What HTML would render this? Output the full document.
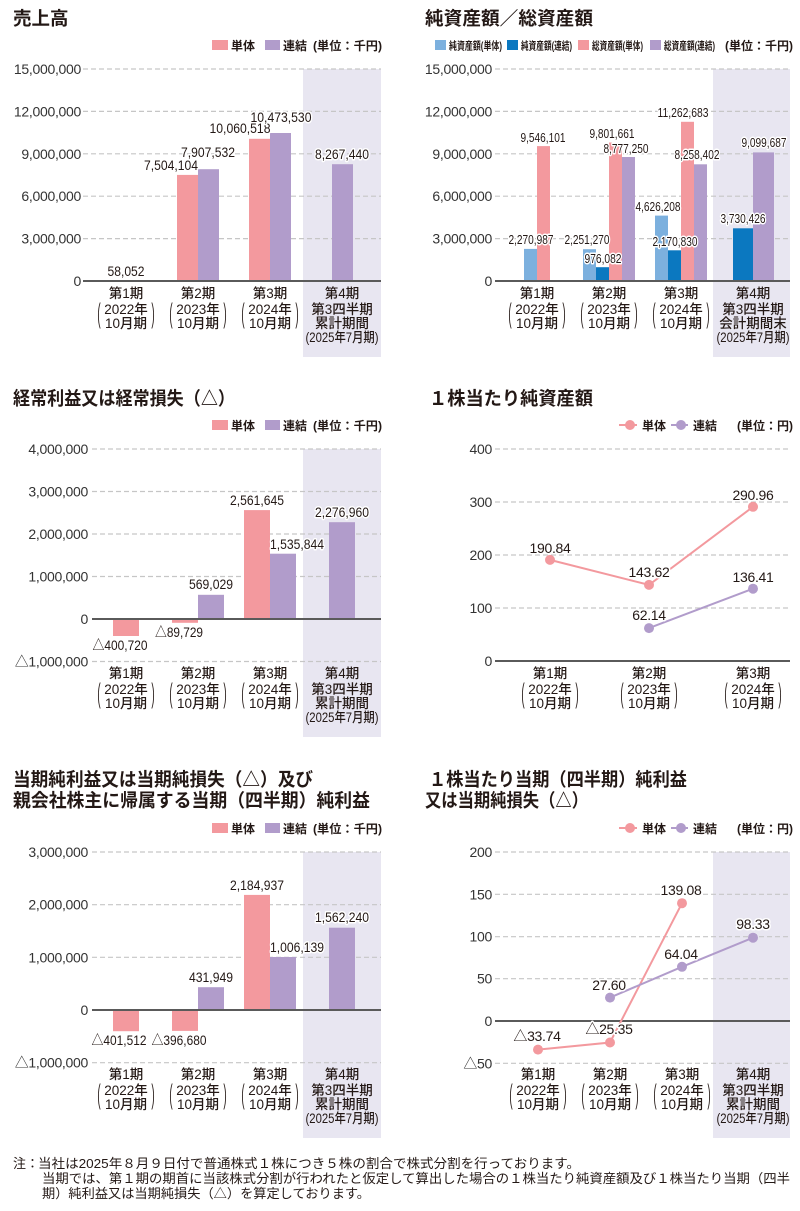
<!DOCTYPE html>
<html><head><meta charset="utf-8">
<style>
html,body{margin:0;padding:0;background:#fff}
svg{display:block}
text{font-family:"Liberation Sans","Noto Sans CJK JP",sans-serif;fill:#231815}
.t{font-size:18.5px;font-weight:bold}
.lg{font-size:12px;font-weight:bold}
.lgs{font-size:11px;font-weight:bold}
.yl{font-size:14px;text-anchor:end;letter-spacing:-0.3px;fill:#333}
.xl{font-size:13.5px;font-weight:500;text-anchor:middle}
.pr{font-size:14px;text-anchor:middle}
.dl{font-size:14px;text-anchor:middle;stroke:#fff;stroke-width:3px;paint-order:stroke;stroke-linejoin:round}
.dls{font-size:13px}
.dll{letter-spacing:-0.3px}
.g{stroke:#c6c6c6;stroke-width:1.2;stroke-dasharray:5 3;fill:none}
.ax{stroke:#5a5a5a;stroke-width:2}
.fn{font-size:13px}
.pk{fill:#f3999e}
.pu{fill:#b19ccb}
.lb{fill:#7cb0de}
.db{fill:#0b78c0}
.sh{fill:#e8e6f1}
</style></head><body>
<svg width="800" height="1211" viewBox="0 0 800 1211" xmlns="http://www.w3.org/2000/svg">

<!-- ================= Chart A : 売上高 ================= -->
<text class="t" x="13" y="25">売上高</text>
<rect class="pk" x="212" y="40" width="16" height="10"/>
<text class="lg" x="231" y="50">単体</text>
<rect class="pu" x="265" y="40" width="15" height="10"/>
<text class="lg" x="283" y="50">連結</text>
<text class="lg" x="313" y="50" textLength="69" lengthAdjust="spacingAndGlyphs">(単位：千円)</text>

<rect class="sh" x="303" y="69" width="78" height="288"/>
<path class="g" d="M83 69H381M83 111.4H381M83 153.8H381M83 196.2H381M83 238.6H381"/>
<text class="yl" x="81" y="74">15,000,000</text>
<text class="yl" x="81" y="116.4">12,000,000</text>
<text class="yl" x="81" y="158.8">9,000,000</text>
<text class="yl" x="81" y="201.2">6,000,000</text>
<text class="yl" x="81" y="243.6">3,000,000</text>
<text class="yl" x="81" y="286">0</text>

<rect class="pk" x="115.5" y="280" width="21" height="1"/>
<rect class="pk" x="177" y="174.9" width="21" height="106.1"/>
<rect class="pu" x="198" y="169.2" width="21" height="111.8"/>
<rect class="pk" x="249" y="138.8" width="21" height="142.2"/>
<rect class="pu" x="270" y="133" width="21" height="148"/>
<rect class="pu" x="332" y="164.2" width="21" height="116.8"/>
<line class="ax" x1="83" y1="281" x2="381" y2="281"/>

<text class="dl" x="126" y="276" textLength="37" lengthAdjust="spacingAndGlyphs">58,052</text>
<text class="dl" x="171" y="170" textLength="54" lengthAdjust="spacingAndGlyphs">7,504,104</text>
<text class="dl" x="208" y="157" textLength="54" lengthAdjust="spacingAndGlyphs">7,907,532</text>
<text class="dl" x="240" y="133" textLength="61" lengthAdjust="spacingAndGlyphs">10,060,518</text>
<text class="dl" x="281" y="122" textLength="61" lengthAdjust="spacingAndGlyphs">10,473,530</text>
<text class="dl" x="342" y="159" textLength="54" lengthAdjust="spacingAndGlyphs">8,267,440</text>

<g>
<text class="xl" x="126" y="298">第1期</text><text class="xl" x="126" y="314">2022年</text><text class="xl" x="126" y="328">10月期</text>
<text class="pr" transform="translate(99,322.4) scale(0.7,2)">(</text><text class="pr" transform="translate(153,322.4) scale(0.7,2)">)</text>
<text class="xl" x="198" y="298">第2期</text><text class="xl" x="198" y="314">2023年</text><text class="xl" x="198" y="328">10月期</text>
<text class="pr" transform="translate(171,322.4) scale(0.7,2)">(</text><text class="pr" transform="translate(225,322.4) scale(0.7,2)">)</text>
<text class="xl" x="270" y="298">第3期</text><text class="xl" x="270" y="314">2024年</text><text class="xl" x="270" y="328">10月期</text>
<text class="pr" transform="translate(243,322.4) scale(0.7,2)">(</text><text class="pr" transform="translate(297,322.4) scale(0.7,2)">)</text>
<text class="xl" x="342" y="298">第4期</text><text class="xl" x="342" y="314">第3四半期</text><text class="xl" x="342" y="328">累計期間</text>
<text class="xl" x="342" y="342" textLength="73" lengthAdjust="spacingAndGlyphs">(2025年7月期)</text>
</g>

<!-- ================= Chart B : 純資産額／総資産額 ================= -->
<text class="t" x="425" y="25" textLength="168" lengthAdjust="spacingAndGlyphs">純資産額／総資産額</text>
<rect class="lb" x="435" y="40" width="11" height="10"/>
<text class="lgs" x="449" y="49.5" textLength="53" lengthAdjust="spacingAndGlyphs">純資産額(単体)</text>
<rect class="db" x="507" y="40" width="11" height="10"/>
<text class="lgs" x="521" y="49.5" textLength="51" lengthAdjust="spacingAndGlyphs">純資産額(連結)</text>
<rect class="pk" x="578" y="40" width="11" height="10"/>
<text class="lgs" x="592" y="49.5" textLength="51" lengthAdjust="spacingAndGlyphs">総資産額(単体)</text>
<rect class="pu" x="650" y="40" width="11" height="10"/>
<text class="lgs" x="664" y="49.5" textLength="51" lengthAdjust="spacingAndGlyphs">総資産額(連結)</text>
<text class="lg" x="725" y="50" textLength="68" lengthAdjust="spacingAndGlyphs">(単位：千円)</text>

<rect class="sh" x="713" y="69" width="77" height="288"/>
<path class="g" d="M495 69H790M495 111.4H790M495 153.8H790M495 196.2H790M495 238.6H790"/>
<text class="yl" x="492" y="74">15,000,000</text>
<text class="yl" x="492" y="116.4">12,000,000</text>
<text class="yl" x="492" y="158.8">9,000,000</text>
<text class="yl" x="492" y="201.2">6,000,000</text>
<text class="yl" x="492" y="243.6">3,000,000</text>
<text class="yl" x="492" y="286">0</text>

<rect class="lb" x="524" y="248.9" width="13" height="32.1"/>
<rect class="pk" x="537" y="146.1" width="13" height="134.9"/>
<rect class="lb" x="583" y="249.2" width="13" height="31.8"/>
<rect class="db" x="596" y="267.2" width="13" height="13.8"/>
<rect class="pk" x="609" y="142.5" width="13" height="138.5"/>
<rect class="pu" x="622" y="157" width="13" height="124"/>
<rect class="lb" x="655" y="215.6" width="13" height="65.4"/>
<rect class="db" x="668" y="250.3" width="13" height="30.7"/>
<rect class="pk" x="681" y="121.8" width="13" height="159.2"/>
<rect class="pu" x="694" y="164.3" width="13" height="116.7"/>
<rect class="db" x="733" y="228.3" width="20" height="52.7"/>
<rect class="pu" x="753" y="152.4" width="21" height="128.6"/>
<line class="ax" x1="495" y1="281" x2="790" y2="281"/>

<text class="dl dls" x="531" y="244" textLength="45" lengthAdjust="spacingAndGlyphs">2,270,987</text>
<text class="dl dls" x="543" y="142" textLength="45" lengthAdjust="spacingAndGlyphs">9,546,101</text>
<text class="dl dls" x="587" y="244" textLength="45" lengthAdjust="spacingAndGlyphs">2,251,270</text>
<text class="dl dls" x="603" y="263" textLength="37" lengthAdjust="spacingAndGlyphs">976,082</text>
<text class="dl dls" x="612" y="138" textLength="45" lengthAdjust="spacingAndGlyphs">9,801,661</text>
<text class="dl dls" x="626" y="153" textLength="45" lengthAdjust="spacingAndGlyphs">8,777,250</text>
<text class="dl dls" x="658" y="211" textLength="45" lengthAdjust="spacingAndGlyphs">4,626,208</text>
<text class="dl dls" x="675" y="246" textLength="45" lengthAdjust="spacingAndGlyphs">2,170,830</text>
<text class="dl dls" x="683" y="117" textLength="51" lengthAdjust="spacingAndGlyphs">11,262,683</text>
<text class="dl dls" x="697" y="159" textLength="45" lengthAdjust="spacingAndGlyphs">8,258,402</text>
<text class="dl dls" x="743" y="223" textLength="45" lengthAdjust="spacingAndGlyphs">3,730,426</text>
<text class="dl dls" x="764" y="147" textLength="45" lengthAdjust="spacingAndGlyphs">9,099,687</text>

<g>
<text class="xl" x="537" y="298">第1期</text><text class="xl" x="537" y="314">2022年</text><text class="xl" x="537" y="328">10月期</text>
<text class="pr" transform="translate(510,322.4) scale(0.7,2)">(</text><text class="pr" transform="translate(564,322.4) scale(0.7,2)">)</text>
<text class="xl" x="609" y="298">第2期</text><text class="xl" x="609" y="314">2023年</text><text class="xl" x="609" y="328">10月期</text>
<text class="pr" transform="translate(582,322.4) scale(0.7,2)">(</text><text class="pr" transform="translate(636,322.4) scale(0.7,2)">)</text>
<text class="xl" x="681" y="298">第3期</text><text class="xl" x="681" y="314">2024年</text><text class="xl" x="681" y="328">10月期</text>
<text class="pr" transform="translate(654,322.4) scale(0.7,2)">(</text><text class="pr" transform="translate(708,322.4) scale(0.7,2)">)</text>
<text class="xl" x="753" y="298">第4期</text><text class="xl" x="753" y="314">第3四半期</text><text class="xl" x="753" y="328">会計期間末</text>
<text class="xl" x="753" y="342" textLength="73" lengthAdjust="spacingAndGlyphs">(2025年7月期)</text>
</g>

<!-- ================= Chart C : 経常利益 ================= -->
<text class="t" x="13" y="405" textLength="222" lengthAdjust="spacingAndGlyphs">経常利益又は経常損失（△）</text>
<rect class="pk" x="212" y="420" width="16" height="10"/>
<text class="lg" x="231" y="430">単体</text>
<rect class="pu" x="265" y="420" width="15" height="10"/>
<text class="lg" x="283" y="430">連結</text>
<text class="lg" x="313" y="430" textLength="69" lengthAdjust="spacingAndGlyphs">(単位：千円)</text>

<rect class="sh" x="303" y="449" width="78" height="288"/>
<path class="g" d="M92 449H381M92 491.5H381M92 534H381M92 576.5H381M92 661.5H381"/>
<text class="yl" x="88" y="454">4,000,000</text>
<text class="yl" x="88" y="496.5">3,000,000</text>
<text class="yl" x="88" y="539">2,000,000</text>
<text class="yl" x="88" y="581.5">1,000,000</text>
<text class="yl" x="88" y="624">0</text>
<text class="yl" x="88" y="666.5">△1,000,000</text>

<rect class="pk" x="113" y="619" width="26" height="17"/>
<rect class="pk" x="172" y="619" width="26" height="3.8"/>
<rect class="pu" x="198" y="594.8" width="26" height="24.2"/>
<rect class="pk" x="244" y="510.1" width="26" height="108.9"/>
<rect class="pu" x="270" y="553.7" width="26" height="65.3"/>
<rect class="pu" x="329" y="522.2" width="26" height="96.8"/>
<line class="ax" x1="92" y1="619" x2="381" y2="619"/>

<text class="dl" x="120" y="650" textLength="55" lengthAdjust="spacingAndGlyphs">△400,720</text>
<text class="dl" x="179" y="637" textLength="48" lengthAdjust="spacingAndGlyphs">△89,729</text>
<text class="dl" x="211" y="589" textLength="44" lengthAdjust="spacingAndGlyphs">569,029</text>
<text class="dl" x="257" y="505" textLength="54" lengthAdjust="spacingAndGlyphs">2,561,645</text>
<text class="dl" x="297" y="549" textLength="54" lengthAdjust="spacingAndGlyphs">1,535,844</text>
<text class="dl" x="342" y="517" textLength="54" lengthAdjust="spacingAndGlyphs">2,276,960</text>

<g>
<text class="xl" x="126" y="678">第1期</text><text class="xl" x="126" y="694">2022年</text><text class="xl" x="126" y="708">10月期</text>
<text class="pr" transform="translate(99,702.4) scale(0.7,2)">(</text><text class="pr" transform="translate(153,702.4) scale(0.7,2)">)</text>
<text class="xl" x="198" y="678">第2期</text><text class="xl" x="198" y="694">2023年</text><text class="xl" x="198" y="708">10月期</text>
<text class="pr" transform="translate(171,702.4) scale(0.7,2)">(</text><text class="pr" transform="translate(225,702.4) scale(0.7,2)">)</text>
<text class="xl" x="270" y="678">第3期</text><text class="xl" x="270" y="694">2024年</text><text class="xl" x="270" y="708">10月期</text>
<text class="pr" transform="translate(243,702.4) scale(0.7,2)">(</text><text class="pr" transform="translate(297,702.4) scale(0.7,2)">)</text>
<text class="xl" x="342" y="678">第4期</text><text class="xl" x="342" y="694">第3四半期</text><text class="xl" x="342" y="708">累計期間</text>
<text class="xl" x="342" y="722" textLength="73" lengthAdjust="spacingAndGlyphs">(2025年7月期)</text>
</g>

<!-- ================= Chart D : 1株当たり純資産額 ================= -->
<text class="t" x="429" y="405" textLength="164" lengthAdjust="spacingAndGlyphs">１株当たり純資産額</text>
<line x1="619" y1="425" x2="637" y2="425" stroke="#f3999e" stroke-width="2"/>
<circle cx="630" cy="425" r="5" class="pk"/>
<text class="lg" x="642" y="430">単体</text>
<line x1="671" y1="425" x2="688" y2="425" stroke="#b19ccb" stroke-width="2"/>
<circle cx="681" cy="425" r="5" class="pu"/>
<text class="lg" x="693" y="430">連結</text>
<text class="lg" x="737" y="430" textLength="56" lengthAdjust="spacingAndGlyphs">(単位：円)</text>

<path class="g" d="M495 449H790M495 502H790M495 555H790M495 608H790"/>
<text class="yl" x="492" y="454">400</text>
<text class="yl" x="492" y="507">300</text>
<text class="yl" x="492" y="560">200</text>
<text class="yl" x="492" y="613">100</text>
<text class="yl" x="492" y="666">0</text>
<line class="ax" x1="495" y1="661" x2="790" y2="661"/>

<polyline points="550,559.9 649,584.9 753,506.8" fill="none" stroke="#f3999e" stroke-width="2"/>
<polyline points="649,628.1 753,588.7" fill="none" stroke="#b19ccb" stroke-width="2"/>
<circle cx="550" cy="559.9" r="5" class="pk"/>
<circle cx="649" cy="584.9" r="5" class="pk"/>
<circle cx="753" cy="506.8" r="5" class="pk"/>
<circle cx="649" cy="628.1" r="5" class="pu"/>
<circle cx="753" cy="588.7" r="5" class="pu"/>

<text class="dl dll" x="550" y="553">190.84</text>
<text class="dl dll" x="649" y="577">143.62</text>
<text class="dl dll" x="753" y="500">290.96</text>
<text class="dl dll" x="649" y="620">62.14</text>
<text class="dl dll" x="753" y="582">136.41</text>

<g>
<text class="xl" x="550" y="678">第1期</text><text class="xl" x="550" y="694">2022年</text><text class="xl" x="550" y="708">10月期</text>
<text class="pr" transform="translate(523,702.4) scale(0.7,2)">(</text><text class="pr" transform="translate(577,702.4) scale(0.7,2)">)</text>
<text class="xl" x="649" y="678">第2期</text><text class="xl" x="649" y="694">2023年</text><text class="xl" x="649" y="708">10月期</text>
<text class="pr" transform="translate(622,702.4) scale(0.7,2)">(</text><text class="pr" transform="translate(676,702.4) scale(0.7,2)">)</text>
<text class="xl" x="753" y="678">第3期</text><text class="xl" x="753" y="694">2024年</text><text class="xl" x="753" y="708">10月期</text>
<text class="pr" transform="translate(726,702.4) scale(0.7,2)">(</text><text class="pr" transform="translate(780,702.4) scale(0.7,2)">)</text>
</g>

<!-- ================= Chart E : 当期純利益 ================= -->
<text class="t" x="13" y="786" textLength="300" lengthAdjust="spacingAndGlyphs">当期純利益又は当期純損失（△）及び</text>
<text class="t" x="13" y="807" textLength="357" lengthAdjust="spacingAndGlyphs">親会社株主に帰属する当期（四半期）純利益</text>
<rect class="pk" x="212" y="823" width="16" height="10"/>
<text class="lg" x="231" y="833">単体</text>
<rect class="pu" x="265" y="823" width="15" height="10"/>
<text class="lg" x="283" y="833">連結</text>
<text class="lg" x="313" y="833" textLength="69" lengthAdjust="spacingAndGlyphs">(単位：千円)</text>

<rect class="sh" x="303" y="852" width="78" height="286"/>
<path class="g" d="M92 852H381M92 904.7H381M92 957.3H381M92 1062.7H381"/>
<text class="yl" x="88" y="857">3,000,000</text>
<text class="yl" x="88" y="909.7">2,000,000</text>
<text class="yl" x="88" y="962.3">1,000,000</text>
<text class="yl" x="88" y="1015">0</text>
<text class="yl" x="88" y="1067.7">△1,000,000</text>

<rect class="pk" x="113" y="1010" width="26" height="21.2"/>
<rect class="pk" x="172" y="1010" width="26" height="20.9"/>
<rect class="pu" x="198" y="987.2" width="26" height="22.8"/>
<rect class="pk" x="244" y="894.9" width="26" height="115.1"/>
<rect class="pu" x="270" y="957" width="26" height="53"/>
<rect class="pu" x="329" y="927.7" width="26" height="82.3"/>
<line class="ax" x1="92" y1="1010" x2="381" y2="1010"/>

<text class="dl" x="119" y="1045" textLength="55" lengthAdjust="spacingAndGlyphs">△401,512</text>
<text class="dl" x="179" y="1045" textLength="55" lengthAdjust="spacingAndGlyphs">△396,680</text>
<text class="dl" x="211" y="982" textLength="44" lengthAdjust="spacingAndGlyphs">431,949</text>
<text class="dl" x="257" y="890" textLength="54" lengthAdjust="spacingAndGlyphs">2,184,937</text>
<text class="dl" x="297" y="952" textLength="54" lengthAdjust="spacingAndGlyphs">1,006,139</text>
<text class="dl" x="342" y="922" textLength="54" lengthAdjust="spacingAndGlyphs">1,562,240</text>

<g>
<text class="xl" x="126" y="1079">第1期</text><text class="xl" x="126" y="1095">2022年</text><text class="xl" x="126" y="1109">10月期</text>
<text class="pr" transform="translate(99,1103.4) scale(0.7,2)">(</text><text class="pr" transform="translate(153,1103.4) scale(0.7,2)">)</text>
<text class="xl" x="198" y="1079">第2期</text><text class="xl" x="198" y="1095">2023年</text><text class="xl" x="198" y="1109">10月期</text>
<text class="pr" transform="translate(171,1103.4) scale(0.7,2)">(</text><text class="pr" transform="translate(225,1103.4) scale(0.7,2)">)</text>
<text class="xl" x="270" y="1079">第3期</text><text class="xl" x="270" y="1095">2024年</text><text class="xl" x="270" y="1109">10月期</text>
<text class="pr" transform="translate(243,1103.4) scale(0.7,2)">(</text><text class="pr" transform="translate(297,1103.4) scale(0.7,2)">)</text>
<text class="xl" x="342" y="1079">第4期</text><text class="xl" x="342" y="1095">第3四半期</text><text class="xl" x="342" y="1109">累計期間</text>
<text class="xl" x="342" y="1123" textLength="73" lengthAdjust="spacingAndGlyphs">(2025年7月期)</text>
</g>

<!-- ================= Chart F : 1株当たり当期純利益 ================= -->
<text class="t" x="429" y="786" textLength="258" lengthAdjust="spacingAndGlyphs">１株当たり当期（四半期）純利益</text>
<text class="t" x="425" y="807" textLength="163" lengthAdjust="spacingAndGlyphs">又は当期純損失（△）</text>
<line x1="619" y1="828" x2="637" y2="828" stroke="#f3999e" stroke-width="2"/>
<circle cx="630" cy="828" r="5" class="pk"/>
<text class="lg" x="642" y="833">単体</text>
<line x1="671" y1="828" x2="688" y2="828" stroke="#b19ccb" stroke-width="2"/>
<circle cx="681" cy="828" r="5" class="pu"/>
<text class="lg" x="693" y="833">連結</text>
<text class="lg" x="737" y="833" textLength="56" lengthAdjust="spacingAndGlyphs">(単位：円)</text>

<rect class="sh" x="713" y="852" width="77" height="286"/>
<path class="g" d="M495 852H790M495 894.3H790M495 936.7H790M495 978.7H790M495 1063.3H790"/>
<text class="yl" x="492" y="857">200</text>
<text class="yl" x="492" y="899.3">150</text>
<text class="yl" x="492" y="941.7">100</text>
<text class="yl" x="492" y="983.7">50</text>
<text class="yl" x="492" y="1026">0</text>
<text class="yl" x="492" y="1068.3">△50</text>
<line class="ax" x1="495" y1="1021" x2="790" y2="1021"/>

<polyline points="538,1049.6 610,1042.5 682,903.2" fill="none" stroke="#f3999e" stroke-width="2"/>
<polyline points="610,997.6 682,966.8 753,937.7" fill="none" stroke="#b19ccb" stroke-width="2"/>
<circle cx="538" cy="1049.6" r="5" class="pk"/>
<circle cx="610" cy="1042.5" r="5" class="pk"/>
<circle cx="682" cy="903.2" r="5" class="pk"/>
<circle cx="610" cy="997.6" r="5" class="pu"/>
<circle cx="682" cy="966.8" r="5" class="pu"/>
<circle cx="753" cy="937.7" r="5" class="pu"/>

<text class="dl dll" x="537" y="1041">△33.74</text>
<text class="dl dll" x="609" y="1034">△25.35</text>
<text class="dl dll" x="681" y="895">139.08</text>
<text class="dl dll" x="609" y="990">27.60</text>
<text class="dl dll" x="681" y="959">64.04</text>
<text class="dl dll" x="753" y="929">98.33</text>

<g>
<text class="xl" x="538" y="1079">第1期</text><text class="xl" x="538" y="1095">2022年</text><text class="xl" x="538" y="1109">10月期</text>
<text class="pr" transform="translate(511,1103.4) scale(0.7,2)">(</text><text class="pr" transform="translate(565,1103.4) scale(0.7,2)">)</text>
<text class="xl" x="610" y="1079">第2期</text><text class="xl" x="610" y="1095">2023年</text><text class="xl" x="610" y="1109">10月期</text>
<text class="pr" transform="translate(583,1103.4) scale(0.7,2)">(</text><text class="pr" transform="translate(637,1103.4) scale(0.7,2)">)</text>
<text class="xl" x="682" y="1079">第3期</text><text class="xl" x="682" y="1095">2024年</text><text class="xl" x="682" y="1109">10月期</text>
<text class="pr" transform="translate(655,1103.4) scale(0.7,2)">(</text><text class="pr" transform="translate(709,1103.4) scale(0.7,2)">)</text>
<text class="xl" x="753" y="1079">第4期</text><text class="xl" x="753" y="1095">第3四半期</text><text class="xl" x="753" y="1109">累計期間</text>
<text class="xl" x="753" y="1123" textLength="73" lengthAdjust="spacingAndGlyphs">(2025年7月期)</text>
</g>

<!-- ================= Footnote ================= -->
<text class="fn" x="13" y="1168">注：</text>
<text class="fn" x="38" y="1168" textLength="542" lengthAdjust="spacingAndGlyphs">当社は2025年８月９日付で普通株式１株につき５株の割合で株式分割を行っております。</text>
<text class="fn" x="42" y="1183" textLength="748" lengthAdjust="spacingAndGlyphs">当期では、第１期の期首に当該株式分割が行われたと仮定して算出した場合の１株当たり純資産額及び１株当たり当期（四半</text>
<text class="fn" x="42" y="1198" textLength="328" lengthAdjust="spacingAndGlyphs">期）純利益又は当期純損失（△）を算定しております。</text>

</svg>
</body></html>
